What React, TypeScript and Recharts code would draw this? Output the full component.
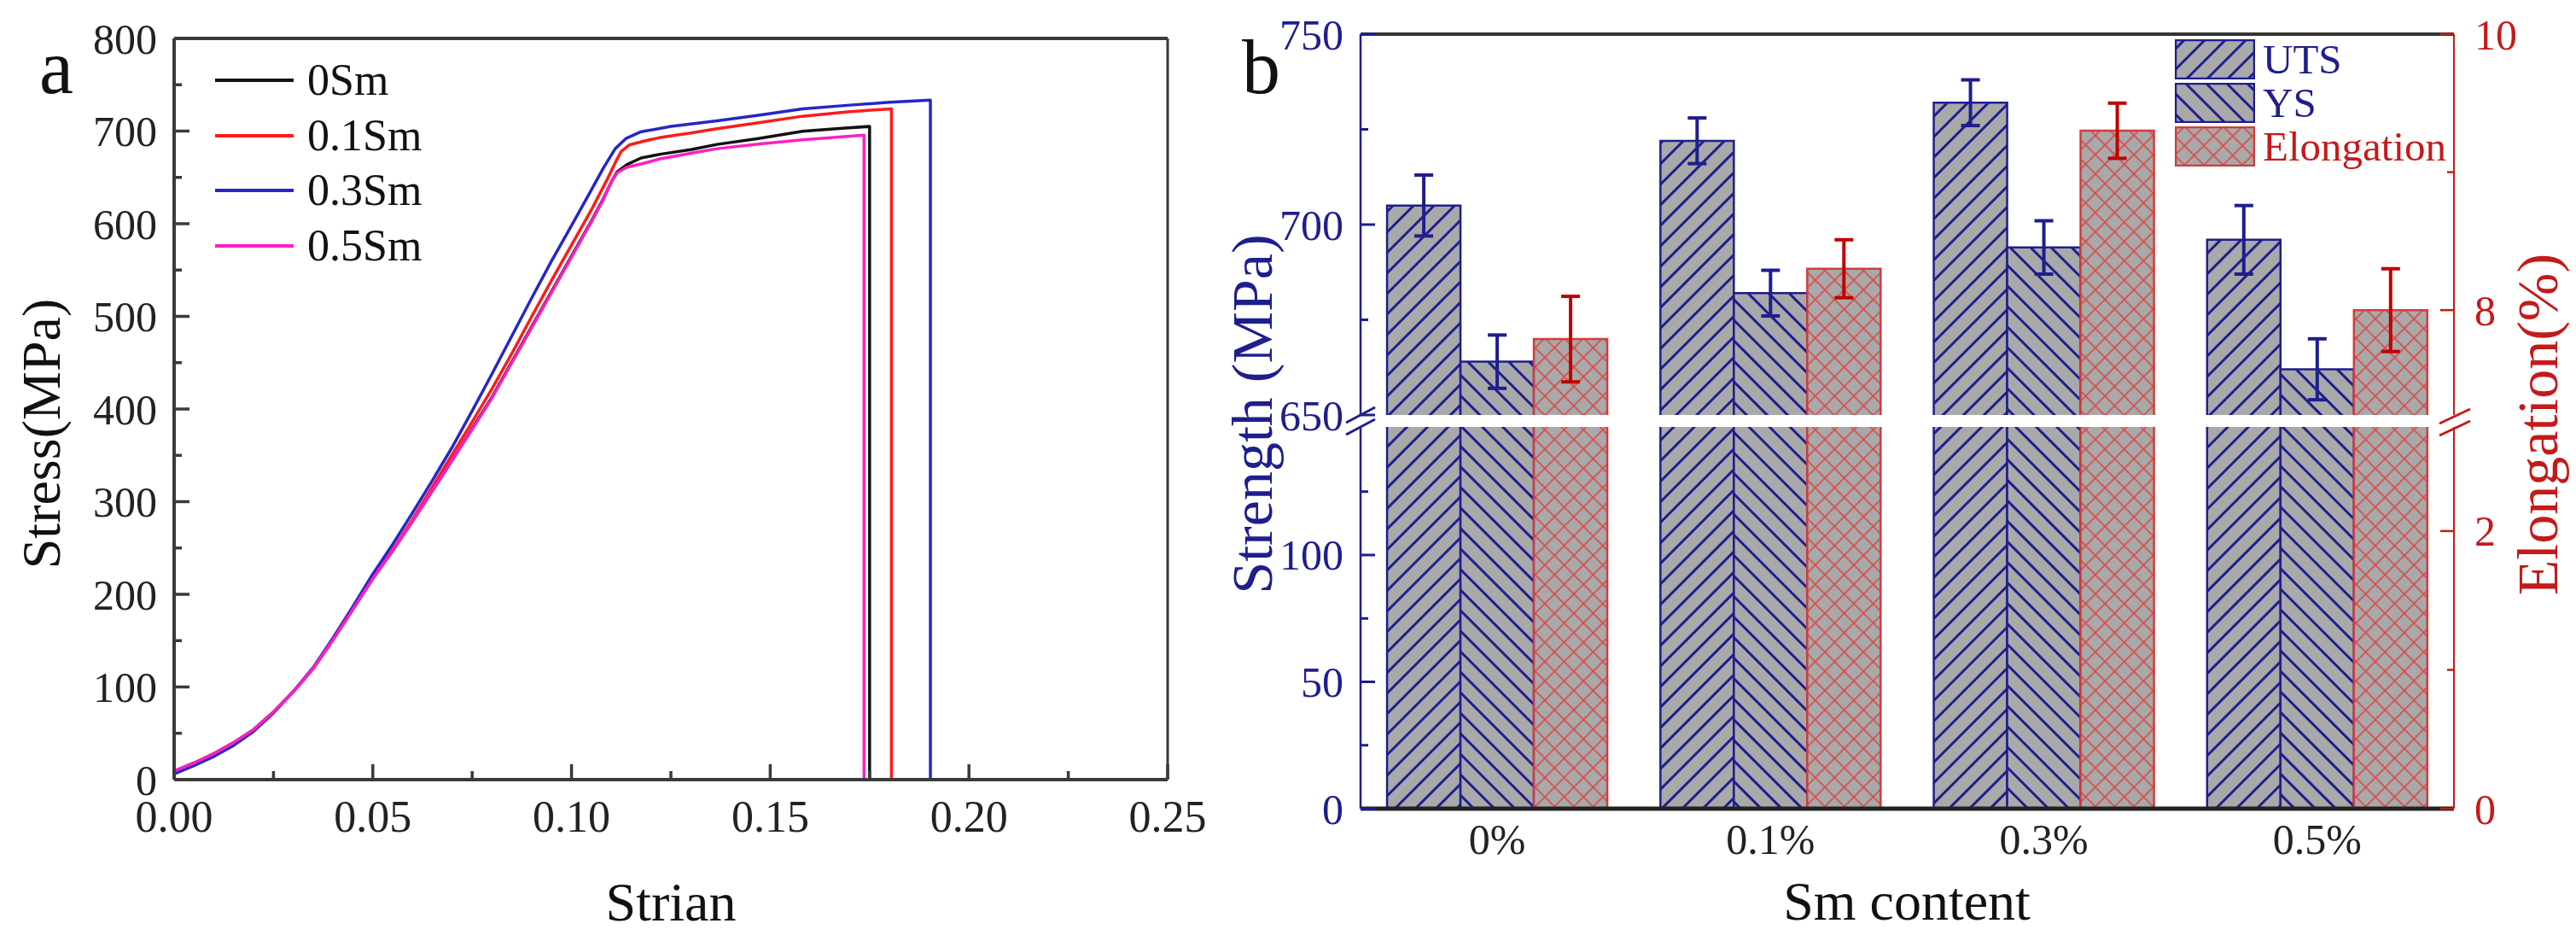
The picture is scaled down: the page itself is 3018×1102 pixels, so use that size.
import React from "react";
import {
  Bar,
  BarChart,
  ErrorBar,
  Legend,
  Line,
  LineChart,
  ReferenceLine,
  XAxis,
  YAxis,
} from "recharts";

const FONT = '"Liberation Serif", "Times New Roman", serif';
const NAVY = "#1e1e8e";
const RED = "#c41a1a";
const GRAY = "#a9a9a9";
const AXIS = "#3a3a3a";

// ---- panel a: stress-strain curves ----
const seriesNames = ["0Sm", "0.1Sm", "0.3Sm", "0.5Sm"];
const seriesColors = ["#111111", "#ff1a1a", "#2626c8", "#ff1fc4"];

const strain0Sm = [0, 0.005, 0.01, 0.015, 0.02, 0.025, 0.03, 0.035, 0.04, 0.045, 0.05, 0.055, 0.06, 0.065, 0.07, 0.075, 0.08, 0.085, 0.09, 0.095, 0.1, 0.105, 0.108, 0.11, 0.1115, 0.114, 0.1175, 0.1223, 0.13, 0.1366, 0.147, 0.1581, 0.168, 0.175, 0.175];
const stress0Sm = [9, 18, 28, 40, 54, 73, 95, 120, 151, 184, 217, 247, 279, 312, 345, 379, 413, 451, 489, 527, 565, 603, 627, 645, 656, 664, 671, 675, 680, 685.6, 692, 699.8, 703, 705, 0];

const strain01Sm = [0, 0.005, 0.01, 0.015, 0.02, 0.025, 0.03, 0.035, 0.04, 0.045, 0.05, 0.055, 0.06, 0.065, 0.07, 0.075, 0.08, 0.085, 0.09, 0.095, 0.1, 0.105, 0.109, 0.111, 0.1125, 0.1145, 0.118, 0.1223, 0.13, 0.1366, 0.147, 0.1581, 0.17, 0.1805, 0.1805];
const stress01Sm = [8, 17, 27, 39, 53, 73, 95, 120, 151, 184, 218, 248, 281, 316, 351, 386, 422, 460, 500, 539, 577, 615, 648, 666, 678, 685, 689, 693, 698, 702.5, 709, 716, 721, 724, 0];

const strain03Sm = [0, 0.005, 0.01, 0.015, 0.02, 0.025, 0.03, 0.035, 0.04, 0.045, 0.05, 0.055, 0.06, 0.065, 0.07, 0.075, 0.08, 0.085, 0.09, 0.095, 0.1, 0.1044, 0.108, 0.111, 0.1137, 0.1173, 0.125, 0.1366, 0.147, 0.1581, 0.17, 0.18, 0.1903, 0.1903];
const stress03Sm = [6, 15, 25, 37, 52, 72, 95, 121, 153, 187, 222, 254, 288, 323, 359, 398, 438, 479, 520, 560, 598, 632, 660, 681, 692, 699, 705, 711, 717, 724, 728, 731, 733.5, 0];

const strain05Sm = [0, 0.005, 0.01, 0.015, 0.02, 0.025, 0.03, 0.035, 0.04, 0.045, 0.05, 0.055, 0.06, 0.065, 0.07, 0.075, 0.08, 0.085, 0.09, 0.095, 0.1, 0.105, 0.108, 0.11, 0.1115, 0.114, 0.118, 0.1223, 0.13, 0.1366, 0.147, 0.1581, 0.1736, 0.1736];
const stress05Sm = [9, 18, 28, 40, 54, 73, 95, 120, 151, 184, 217, 247, 279, 312, 345, 378, 412, 450, 488, 526, 564, 602, 626, 645, 655, 661, 665, 670, 676, 681, 686, 690.5, 695.6, 0];

const strainTicks = [0, 0.025, 0.05, 0.075, 0.1, 0.125, 0.15, 0.175, 0.2, 0.225, 0.25];
const strainLabels = [0, 0.05, 0.1, 0.15, 0.2, 0.25];
const stressTicks = [0, 50, 100, 150, 200, 250, 300, 350, 400, 450, 500, 550, 600, 650, 700, 750, 800];
const stressLabels = [0, 100, 200, 300, 400, 500, 600, 700, 800];

// ---- panel b: strength and elongation ----
const smContent = ["0%", "0.1%", "0.3%", "0.5%"];
const uts = [705, 722, 732, 696];
const utsErr = [8, 6, 6, 9];
const ys = [664, 682, 694, 662];
const ysErr = [7, 6, 7, 8];
const elong = [7.79, 8.3, 9.3, 8.0];
const elongErr = [0.31, 0.21, 0.2, 0.3];

const strengthUpperTicks = [650, 675, 700, 725, 750];
const strengthUpperLabels = [650, 700, 750];
const strengthLowerTicks = [0, 25, 50, 75, 100, 125];
const strengthLowerLabels = [0, 50, 100];
const elongUpperTicks = [8, 9, 10];
const elongUpperLabels = [8, 10];
const elongLowerTicks = [0, 1, 2];
const elongLowerLabels = [0, 2];

const curve = (xs: number[], ys: number[]) => xs.map((x, i) => ({ x, y: ys[i] }));
const curves = [
  curve(strain0Sm, stress0Sm),
  curve(strain01Sm, stress01Sm),
  curve(strain03Sm, stress03Sm),
  curve(strain05Sm, stress05Sm),
];

const barData = smContent.map((c, i) => ({
  content: c,
  uts: uts[i],
  utsErr: utsErr[i],
  ys: ys[i],
  ysErr: ysErr[i],
  elong: elong[i],
  elongErr: elongErr[i],
}));

const barStyles = [
  { key: "uts", name: "UTS", fill: "url(#hatchUts)", stroke: NAVY, axis: "left" },
  { key: "ys", name: "YS", fill: "url(#hatchYs)", stroke: NAVY, axis: "left" },
  { key: "elong", name: "Elongation", fill: "url(#hatchEl)", stroke: "#d23c3c", axis: "right" },
];

type TickOpts = {
  text: string;
  line: string;
  major: number;
  minor: number;
  gap: number;
  size: number;
  width: number;
  fmt?: (v: number) => string;
};

function axisTick(side: "left" | "right" | "bottom", labels: number[], o: TickOpts) {
  return (props: any) => {
    const { x, y, payload } = props;
    const v = Number(payload.value);
    const isMajor = labels.some((l) => Math.abs(l - v) < 1e-9);
    const len = isMajor ? o.major : o.minor;
    const label = isMajor ? (o.fmt ? o.fmt(v) : String(v)) : "";
    if (side === "bottom") {
      return (
        <g>
          <line x1={x} x2={x} y1={y} y2={y - len} stroke={o.line} strokeWidth={o.width} />
          {label && (
            <text x={x} y={y + o.gap} textAnchor="middle" fontSize={o.size} fontFamily={FONT} fill={o.text}>
              {label}
            </text>
          )}
        </g>
      );
    }
    const dir = side === "left" ? 1 : -1;
    return (
      <g>
        <line x1={x} x2={x + dir * len} y1={y} y2={y} stroke={o.line} strokeWidth={o.width} />
        {label && (
          <text
            x={x - dir * o.gap}
            y={y}
            dy="0.35em"
            textAnchor={side === "left" ? "end" : "start"}
            fontSize={o.size}
            fontFamily={FONT}
            fill={o.text}
          >
            {label}
          </text>
        )}
      </g>
    );
  };
}

const strainTick = axisTick("bottom", strainLabels, {
  text: "#222", line: AXIS, major: 18, minor: 10, gap: 61, size: 52, width: 3.5, fmt: (v) => v.toFixed(2),
});
const stressTick = axisTick("left", stressLabels, {
  text: "#222", line: AXIS, major: 18, minor: 9, gap: 20, size: 50, width: 3.5,
});
const strengthUpperTick = axisTick("left", strengthUpperLabels, {
  text: NAVY, line: NAVY, major: 17, minor: 9, gap: 20, size: 50, width: 3,
});
const strengthLowerTick = axisTick("left", strengthLowerLabels, {
  text: NAVY, line: NAVY, major: 17, minor: 9, gap: 20, size: 50, width: 3,
});
const elongUpperTick = axisTick("right", elongUpperLabels, {
  text: RED, line: RED, major: 16, minor: 8, gap: 24, size: 50, width: 2.5,
});
const elongLowerTick = axisTick("right", elongLowerLabels, {
  text: RED, line: RED, major: 16, minor: 8, gap: 24, size: 50, width: 2.5,
});

const contentTick = (props: any) => (
  <text x={props.x} y={props.y + 53} textAnchor="middle" fontSize={50} fontFamily={FONT} fill="#222">
    {props.payload.value}
  </text>
);

// bar body without the bottom edge (the break gap stays clean)
const barShape = (stroke: string) => (props: any) => {
  const { x, y, width, height, fill } = props;
  if (!width || !height) return <g />;
  return (
    <g>
      <rect x={x} y={y} width={width} height={height} fill={fill} />
      <path
        d={`M${x},${y + height} V${y} H${x + width} V${y + height}`}
        fill="none"
        stroke={stroke}
        strokeWidth={2.5}
      />
    </g>
  );
};

function LegendA() {
  return (
    <div style={{ fontFamily: FONT, fontSize: 52, color: "#111" }}>
      {seriesNames.map((n, i) => (
        <div key={n} style={{ display: "flex", alignItems: "center", height: 64.5 }}>
          <svg width={92} height={10}>
            <line x1={0} x2={92} y1={5} y2={5} stroke={seriesColors[i]} strokeWidth={4} />
          </svg>
          <span style={{ marginLeft: 16, lineHeight: 1 }}>{n}</span>
        </div>
      ))}
    </div>
  );
}

function LegendB() {
  return (
    <div style={{ fontFamily: FONT, fontSize: 49 }}>
      {barStyles.map((b) => (
        <div key={b.key} style={{ display: "flex", alignItems: "center", height: 51 }}>
          <svg width={94} height={47}>
            <rect x={1} y={1} width={92} height={45} fill={b.fill} stroke={b.stroke} strokeWidth={2.5} />
          </svg>
          <span style={{ marginLeft: 9, lineHeight: 1, color: b.axis === "left" ? NAVY : RED }}>{b.name}</span>
        </div>
      ))}
    </div>
  );
}

function StressStrain() {
  return (
    <LineChart width={1440} height={1102} margin={{ top: 45, right: 72, left: 104, bottom: 89 }}>
      <XAxis
        type="number"
        dataKey="x"
        domain={[0, 0.25]}
        ticks={strainTicks}
        interval={0}
        allowDataOverflow
        height={100}
        tickSize={0}
        tickMargin={0}
        tickLine={false}
        axisLine={{ stroke: AXIS, strokeWidth: 4 }}
        tick={strainTick}
      />
      <YAxis
        type="number"
        dataKey="y"
        domain={[0, 800]}
        ticks={stressTicks}
        interval={0}
        allowDataOverflow
        width={100}
        tickSize={0}
        tickMargin={0}
        tickLine={false}
        axisLine={{ stroke: AXIS, strokeWidth: 4 }}
        tick={stressTick}
      />
      <ReferenceLine y={800} stroke={AXIS} strokeWidth={4} />
      <ReferenceLine x={0.25} stroke={AXIS} strokeWidth={3} />
      {curves.map((pts, i) => (
        <Line
          key={seriesNames[i]}
          data={pts}
          dataKey="y"
          name={seriesNames[i]}
          type="linear"
          stroke={seriesColors[i]}
          strokeWidth={3.5}
          strokeLinejoin="round"
          dot={false}
          activeDot={false}
          isAnimationActive={false}
        />
      ))}
      <Legend
        layout="vertical"
        align="center"
        verticalAlign="middle"
        wrapperStyle={{ left: 252, top: 62, width: 320 }}
        content={() => <LegendA />}
      />
    </LineChart>
  );
}

function UpperBars() {
  return (
    <BarChart
      width={1638}
      height={530}
      data={barData}
      margin={{ top: 40, right: 43, left: 14, bottom: 44 }}
      barCategoryGap="9.7%"
      barGap={0}
    >
      <XAxis dataKey="content" hide />
      <YAxis
        yAxisId="left"
        type="number"
        domain={[650, 750]}
        ticks={strengthUpperTicks}
        interval={0}
        allowDataOverflow
        width={200}
        tickSize={0}
        tickMargin={0}
        tickLine={false}
        axisLine={{ stroke: NAVY, strokeWidth: 2.5 }}
        tick={strengthUpperTick}
      />
      <YAxis
        yAxisId="right"
        orientation="right"
        type="number"
        domain={[7.24, 10]}
        ticks={elongUpperTicks}
        interval={0}
        allowDataOverflow
        width={100}
        tickSize={0}
        tickMargin={0}
        tickLine={false}
        axisLine={{ stroke: RED, strokeWidth: 2 }}
        tick={elongUpperTick}
      />
      <ReferenceLine yAxisId="left" y={750} stroke="#333" strokeWidth={4} />
      {barStyles.map((b) => (
        <Bar
          key={b.key}
          yAxisId={b.axis}
          dataKey={b.key}
          name={b.name}
          fill={b.fill}
          shape={barShape(b.stroke)}
          isAnimationActive={false}
        >
          <ErrorBar
            dataKey={`${b.key}Err`}
            width={11}
            strokeWidth={4}
            stroke={b.axis === "left" ? NAVY : "#c00000"}
            direction="y"
          />
        </Bar>
      ))}
      <Legend
        layout="vertical"
        align="center"
        verticalAlign="middle"
        wrapperStyle={{ left: 1168, top: 44, width: 360 }}
        content={() => <LegendB />}
      />
    </BarChart>
  );
}

function LowerBars() {
  return (
    <BarChart
      width={1638}
      height={610}
      data={barData}
      margin={{ top: 8, right: 43, left: 14, bottom: 35 }}
      barCategoryGap="9.7%"
      barGap={0}
    >
      <XAxis
        dataKey="content"
        height={120}
        tickSize={0}
        tickMargin={0}
        tickLine={false}
        axisLine={{ stroke: "#222", strokeWidth: 5 }}
        tick={contentTick}
        interval={0}
      />
      <YAxis
        yAxisId="left"
        type="number"
        domain={[0, 150.5]}
        ticks={strengthLowerTicks}
        interval={0}
        allowDataOverflow
        width={200}
        tickSize={0}
        tickMargin={0}
        tickLine={false}
        axisLine={{ stroke: NAVY, strokeWidth: 2.5 }}
        tick={strengthLowerTick}
      />
      <YAxis
        yAxisId="right"
        orientation="right"
        type="number"
        domain={[0, 2.75]}
        ticks={elongLowerTicks}
        interval={0}
        allowDataOverflow
        width={100}
        tickSize={0}
        tickMargin={0}
        tickLine={false}
        axisLine={{ stroke: RED, strokeWidth: 2 }}
        tick={elongLowerTick}
      />
      {barStyles.map((b) => (
        <Bar
          key={b.key}
          yAxisId={b.axis}
          dataKey={b.key}
          name={b.name}
          fill={b.fill}
          shape={barShape(b.stroke)}
          isAnimationActive={false}
        />
      ))}
    </BarChart>
  );
}

const textStyle = { fontFamily: FONT };

export default function App() {
  return (
    <div style={{ position: "absolute", left: 0, top: 0, width: 3018, height: 1102, background: "#fff", overflow: "hidden" }}>
      <svg width={0} height={0} style={{ position: "absolute" }}>
        <defs>
          <pattern id="hatchUts" patternUnits="userSpaceOnUse" width={17} height={17} patternTransform="rotate(45)">
            <rect width={17} height={17} fill={GRAY} />
            <line x1={8.5} x2={8.5} y1={0} y2={17} stroke={NAVY} strokeWidth={3} />
          </pattern>
          <pattern id="hatchYs" patternUnits="userSpaceOnUse" width={17} height={17} patternTransform="rotate(-45)">
            <rect width={17} height={17} fill={GRAY} />
            <line x1={8.5} x2={8.5} y1={0} y2={17} stroke={NAVY} strokeWidth={3} />
          </pattern>
          <pattern id="hatchEl" patternUnits="userSpaceOnUse" width={16} height={16} patternTransform="rotate(45)">
            <rect width={16} height={16} fill={GRAY} />
            <line x1={8} x2={8} y1={0} y2={16} stroke="#dc4646" strokeWidth={1.6} />
            <line x1={0} x2={16} y1={8} y2={8} stroke="#dc4646" strokeWidth={1.6} />
          </pattern>
        </defs>
      </svg>
      <div style={{ position: "absolute", left: 0, top: 0 }}>
        <StressStrain />
      </div>
      <div style={{ position: "absolute", left: 1380, top: 0 }}>
        <UpperBars />
      </div>
      <div style={{ position: "absolute", left: 1380, top: 492 }}>
        <LowerBars />
      </div>
      <svg width={3018} height={1102} style={{ position: "absolute", left: 0, top: 0, pointerEvents: "none" }}>
        <text x={46} y={109} fontSize={90} fill="#111" style={textStyle}>a</text>
        <text x={1455} y={109} fontSize={90} fill="#111" style={textStyle}>b</text>
        <text transform="translate(48,508) rotate(-90)" textAnchor="middle" dominantBaseline="central" fontSize={64} fill="#111" style={textStyle}>
          Stress(MPa)
        </text>
        <text x={786} y={1078} textAnchor="middle" fontSize={64} fill="#111" style={textStyle}>Strian</text>
        <text x={2234} y={1077} textAnchor="middle" fontSize={64} fill="#111" style={textStyle}>Sm content</text>
        <text transform="translate(1467,485) rotate(-90)" textAnchor="middle" dominantBaseline="central" fontSize={68} fill={NAVY} style={textStyle}>
          Strength (MPa)
        </text>
        <text transform="translate(2973,497) rotate(-90)" textAnchor="middle" dominantBaseline="central" fontSize={68} fill={RED} style={textStyle}>
          Elongation(%)
        </text>
        <g stroke={NAVY} strokeWidth={3}>
          <line x1={1577} y1={495} x2={1611} y2={477} />
          <line x1={1577} y1={509} x2={1611} y2={491} />
        </g>
        <g stroke={RED} strokeWidth={3}>
          <line x1={2858} y1={496} x2={2894} y2={479} />
          <line x1={2858} y1={510} x2={2894} y2={493} />
        </g>
      </svg>
    </div>
  );
}
